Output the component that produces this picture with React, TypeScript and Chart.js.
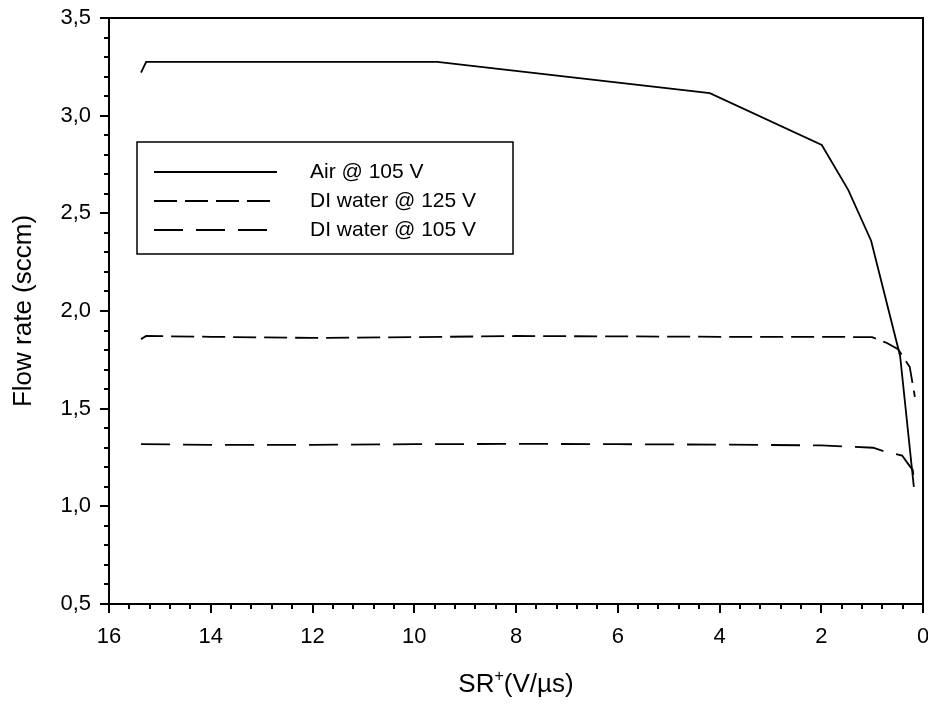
import React, { useEffect, useRef } from 'react';
import { Chart, registerables } from 'chart.js';

Chart.register(...registerables);

const FONT = '"Liberation Sans", Arial, Helvetica, sans-serif';

// Air @ 105 V (solid)
const airX = [15.37, 15.27, 9.55, 4.19, 1.99, 1.47, 1.02, 0.45, 0.18];
const airY = [3.22, 3.275, 3.275, 3.115, 2.85, 2.62, 2.36, 1.77, 1.1];

// DI water @ 125 V (short dashes)
const di125X = [15.37, 15.27, 14, 12, 10, 8, 6, 4, 2, 1.0, 0.71, 0.49, 0.26, 0.16];
const di125Y = [1.856, 1.872, 1.868, 1.862, 1.866, 1.872, 1.87, 1.868, 1.868, 1.866, 1.836, 1.805, 1.713, 1.56];

// DI water @ 105 V (long dashes)
const di105X = [15.37, 14, 12, 10, 8, 6, 4, 2, 0.98, 0.75, 0.41, 0.3, 0.2, 0.17];
const di105Y = [1.318, 1.315, 1.315, 1.318, 1.32, 1.318, 1.316, 1.312, 1.3, 1.28, 1.26, 1.22, 1.185, 1.1];

const seriesLabels = ['Air @ 105 V', 'DI water @ 125 V', 'DI water @ 105 V'];
const seriesDashes: number[][] = [[], [23, 8], [29, 13]];

const xMin = 0, xMax = 16, xStep = 2, xMinor = 0.4;
const yMin = 0.5, yMax = 3.5, yStep = 0.5, yMinor = 0.1;
const yTitle = 'Flow rate (sccm)';

const toPts = (xs: number[], ys: number[]) => xs.map((x, i) => ({ x, y: ys[i] }));

const framePlugin = {
  id: 'frameAndTicks',
  afterDraw(chart: any) {
    const { ctx, chartArea: a, scales } = chart;
    const xs = scales.x, ys = scales.y;
    ctx.save();
    ctx.strokeStyle = '#000';
    ctx.lineWidth = 2;
    ctx.strokeRect(a.left, a.top, a.right - a.left, a.bottom - a.top);
    ctx.beginPath();
    const nY = Math.round((yMax - yMin) / yMinor);
    for (let i = 0; i <= nY; i++) {
      const v = yMin + i * yMinor;
      const major = i % Math.round(yStep / yMinor) === 0;
      const p = Math.round(ys.getPixelForValue(v));
      ctx.moveTo(a.left - (major ? 9 : 5), p);
      ctx.lineTo(a.left, p);
    }
    const nX = Math.round((xMax - xMin) / xMinor);
    for (let i = 0; i <= nX; i++) {
      const v = xMin + i * xMinor;
      const major = i % Math.round(xStep / xMinor) === 0;
      const p = Math.round(xs.getPixelForValue(v));
      ctx.moveTo(p, a.bottom);
      ctx.lineTo(p, a.bottom + (major ? 9 : 5));
    }
    ctx.stroke();

    // y title
    ctx.fillStyle = '#000';
    ctx.font = `26px ${FONT}`;
    ctx.textAlign = 'center';
    ctx.textBaseline = 'middle';
    ctx.translate(24, (a.top + a.bottom) / 2);
    ctx.rotate(-Math.PI / 2);
    ctx.fillText(yTitle, 0, 0);
    ctx.restore();

    // x title with superscript
    ctx.save();
    ctx.fillStyle = '#000';
    ctx.textBaseline = 'alphabetic';
    ctx.textAlign = 'left';
    const big = `26px ${FONT}`, small = `16px ${FONT}`;
    ctx.font = big;
    const w1 = ctx.measureText('SR').width;
    const w3 = ctx.measureText('(V/\u00B5s)').width;
    ctx.font = small;
    const w2 = ctx.measureText('+').width;
    const total = w1 + w2 + w3;
    const x0 = (a.left + a.right) / 2 - total / 2;
    const base = 692;
    ctx.font = big;
    ctx.fillText('SR', x0, base);
    ctx.font = small;
    ctx.fillText('+', x0 + w1, base - 11);
    ctx.font = big;
    ctx.fillText('(V/\u00B5s)', x0 + w1 + w2, base);
    ctx.restore();

    // legend
    ctx.save();
    const lx = a.left + 28, ly = a.top + 124;
    const lw = 376, lh = 112;
    ctx.strokeStyle = '#000';
    ctx.lineWidth = 1.5;
    ctx.strokeRect(lx, ly, lw, lh);
    ctx.font = `21px ${FONT}`;
    ctx.textBaseline = 'middle';
    ctx.fillStyle = '#000';
    chart.data.datasets.forEach((ds: any, i: number) => {
      const yy = ly + 30 + i * 29;
      ctx.beginPath();
      ctx.setLineDash(ds.borderDash || []);
      ctx.lineWidth = 1.8;
      ctx.moveTo(lx + 17, yy);
      ctx.lineTo(lx + 140, yy);
      ctx.stroke();
      ctx.setLineDash([]);
      ctx.fillText(ds.label, lx + 173, yy);
    });
    ctx.restore();
  },
};

export default function App() {
  const ref = useRef<HTMLCanvasElement | null>(null);
  useEffect(() => {
    if (!ref.current) return;
    const tickFont = { family: FONT, size: 22 };
    const chart = new Chart(ref.current, {
      type: 'line',
      data: {
        datasets: [
          { label: seriesLabels[0], data: toPts(airX, airY), borderDash: seriesDashes[0] },
          { label: seriesLabels[1], data: toPts(di125X, di125Y), borderDash: seriesDashes[1] },
          { label: seriesLabels[2], data: toPts(di105X, di105Y), borderDash: seriesDashes[2] },
        ].map((d) => ({
          ...d,
          borderColor: '#000',
          backgroundColor: '#000',
          borderWidth: 1.8,
          pointRadius: 0,
          tension: 0,
          fill: false,
        })),
      },
      options: {
        animation: false,
        responsive: false,
        maintainAspectRatio: false,
        events: [],
        layout: { padding: { left: 0, top: 18, right: 5, bottom: 0 } },
        plugins: { legend: { display: false }, tooltip: { enabled: false }, title: { display: false } },
        scales: {
          x: {
            type: 'linear',
            reverse: true,
            min: xMin,
            max: xMax,
            grid: { display: false, drawTicks: false },
            border: { display: false },
            ticks: {
              stepSize: xStep,
              color: '#000',
              font: tickFont,
              padding: 20,
              maxRotation: 0,
              callback: (v: any) => String(v),
            },
            afterFit: (s: any) => { s.height = 102; s.paddingLeft = 0; s.paddingRight = 0; },
          },
          y: {
            type: 'linear',
            min: yMin,
            max: yMax,
            grid: { display: false, drawTicks: false },
            border: { display: false },
            ticks: {
              stepSize: yStep,
              color: '#000',
              font: tickFont,
              padding: 18,
              callback: (v: any) => Number(v).toFixed(1).replace('.', ','),
            },
            afterFit: (s: any) => { s.width = 109; s.paddingTop = 0; s.paddingBottom = 0; },
          },
        },
      },
      plugins: [framePlugin],
    } as any);
    return () => chart.destroy();
  }, []);
  return (
    <div style={{ position: 'fixed', left: 0, top: 0, width: 928, height: 706, background: '#fff' }}>
      <canvas ref={ref} width={928} height={706} style={{ display: 'block' }} />
    </div>
  );
}
